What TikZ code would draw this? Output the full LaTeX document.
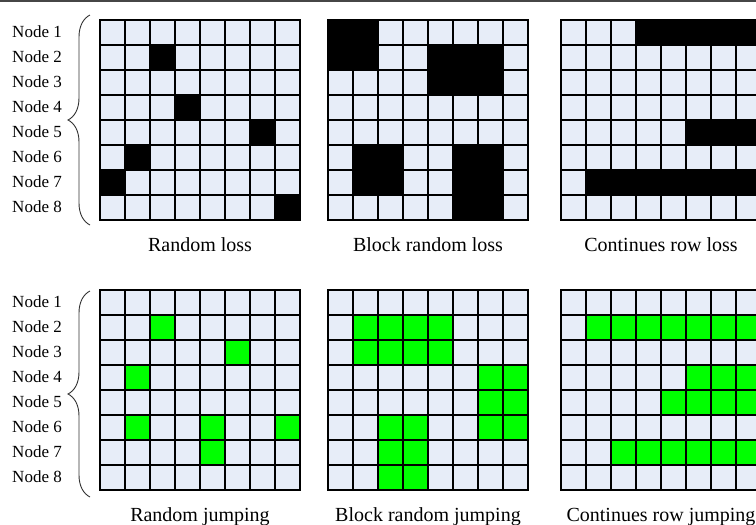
\documentclass[tikz,border=0pt]{standalone}
\usepackage{fontspec}
\setmainfont{Liberation Serif}
\usetikzlibrary{decorations.pathreplacing}
\definecolor{cellbg}{RGB}{231,237,248}
\definecolor{jump}{RGB}{0,255,0}
\definecolor{rulegray}{RGB}{70,70,70}

\begin{document}
\begin{tikzpicture}[x=1pt,y=-1pt,
  gridline/.style={black,line width=1.2pt,line cap=rect},
  brace/.style={decorate,decoration={brace,amplitude=22pt},black!80,line width=0.9pt},
  nodelabel/.style={font=\fontsize{17}{19}\selectfont,anchor=base east,inner sep=0pt},
  caption/.style={font=\fontsize{20}{22}\selectfont,anchor=base,inner sep=0pt}]
  \def\cs{25}
  \clip (0,0) rectangle (756,525);
  % thin rule along the top edge
  \draw[rulegray,line width=1.6pt] (0,0.8) -- (756,0.8);
  % the six 8x8 grids: origin / fill colour / blocks (row1/col1/row2/col2)
  \foreach \gx/\gy/\gcol/\blocks in {
      100/20/black/{2/3/2/3,4/4/4/4,5/7/5/7,6/2/6/2,7/1/7/1,8/8/8/8},
      328/20/black/{1/1/2/2,2/5/3/7,6/2/7/3,6/6/8/7},
      561/20/black/{1/4/1/8,5/6/5/8,7/2/7/8},
      100/290/jump/{2/3/2/3,3/6/3/6,4/2/4/2,6/2/6/2,6/5/6/5,6/8/6/8,7/5/7/5},
      328/290/jump/{2/2/3/5,4/7/6/8,6/3/8/4},
      561/290/jump/{2/2/2/8,4/6/4/8,5/5/5/8,7/3/7/8}}{
    \begin{scope}[shift={(\gx,\gy)}]
      \fill[cellbg] (0,0) rectangle (8*\cs,8*\cs);
      \foreach \ra/\ca/\rb/\cb in \blocks
        \fill[\gcol] ({(\ca-1)*\cs},{(\ra-1)*\cs}) rectangle ({\cb*\cs},{\rb*\cs});
      \foreach \i in {0,...,8}{
        \draw[gridline] (\i*\cs,0) -- (\i*\cs,8*\cs);
        \draw[gridline] (0,\i*\cs) -- (8*\cs,\i*\cs);
      }
    \end{scope}
  }
  % node labels and braces
  \foreach \i in {1,...,8}{
    \node[nodelabel] (lossnode\i) at (62,{20+(\i-0.5)*\cs+5}) {Node \i};
    \node[nodelabel] (jumpnode\i) at (62,{290+(\i-0.5)*\cs+5}) {Node \i};
  }
  \draw[brace] (90,225) -- (90,15);
  \draw[brace] (90,497) -- (90,291);
  % captions
  \node[caption] (randloss) at (200,251) {Random loss};
  \node[caption] (blockloss) at (428,251) {Block random loss};
  \node[caption] (rowloss) at (661,251) {Continues row loss};
  \node[caption] (randjump) at (200,521) {Random jumping};
  \node[caption] (blockjump) at (428,521) {Block random jumping};
  \node[caption] (rowjump) at (661,521) {Continues row jumping};
\end{tikzpicture}
\end{document}
